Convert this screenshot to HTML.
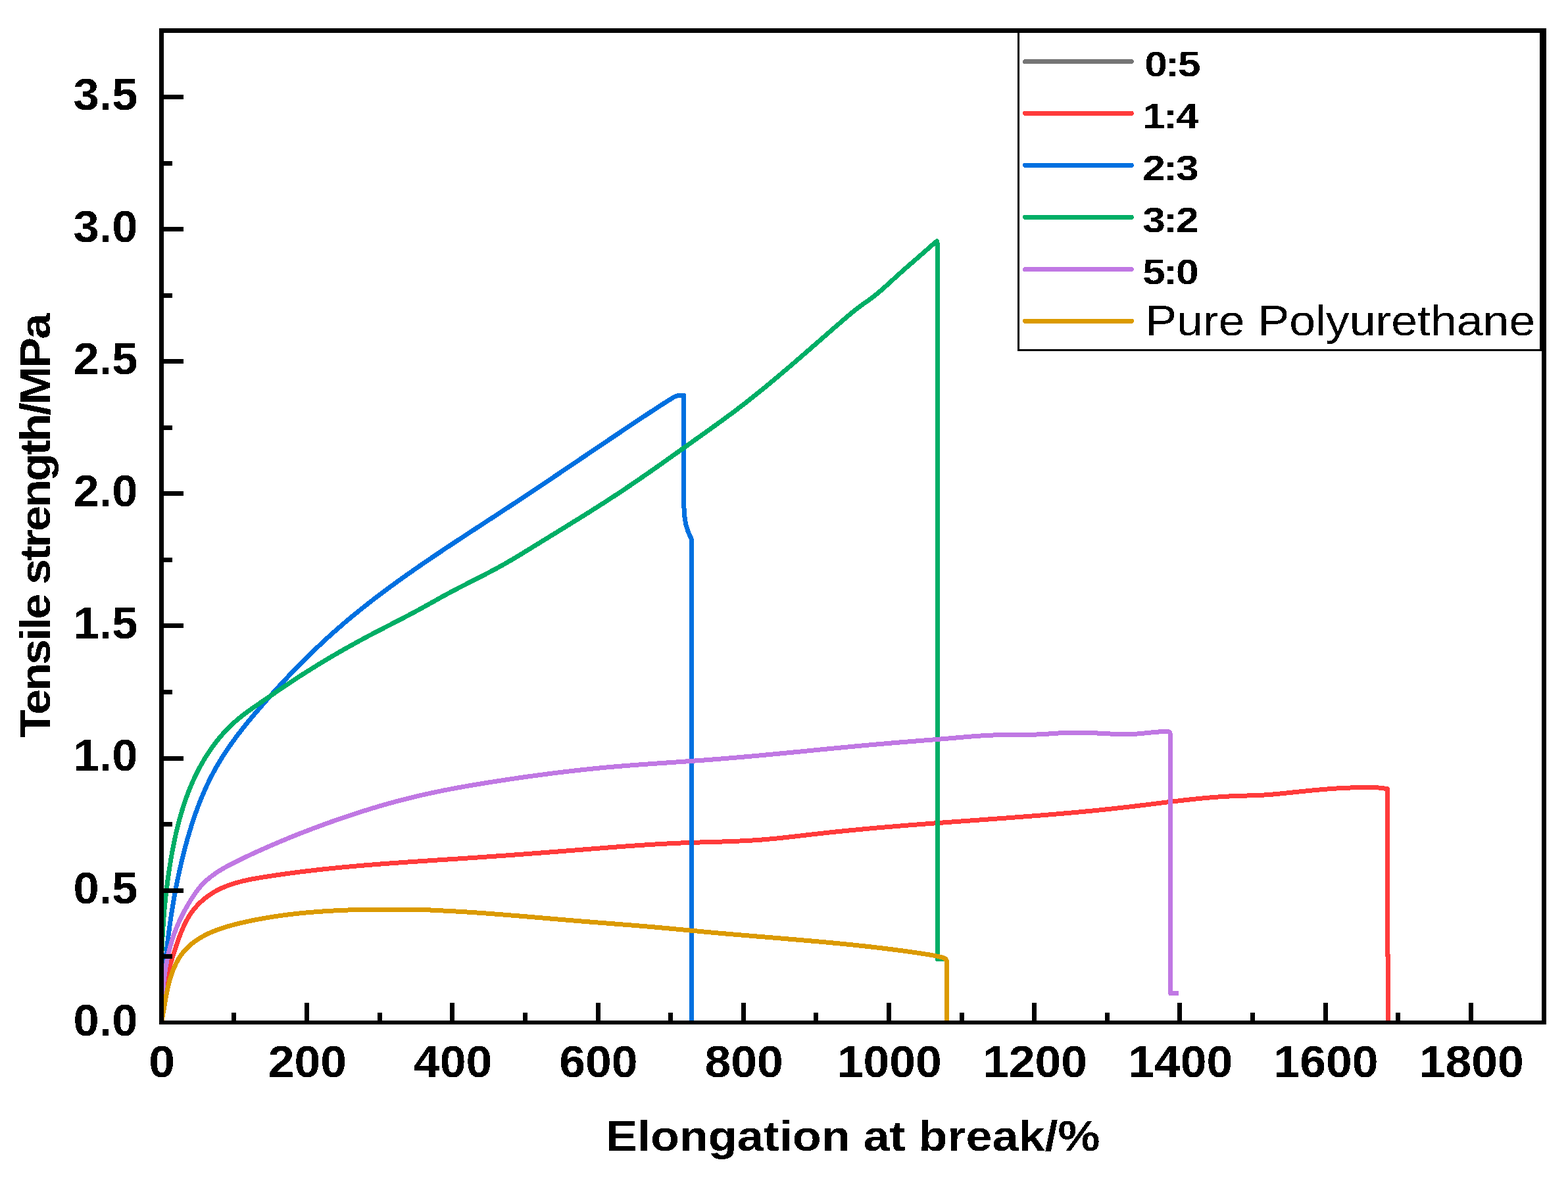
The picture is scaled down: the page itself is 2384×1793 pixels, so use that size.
<!DOCTYPE html>
<html lang="en">
<head>
<meta charset="utf-8">
<title>Tensile strength vs elongation at break</title>
<style>
html,body{margin:0;padding:0;background:#fff;overflow:hidden}
svg{display:block}
text{font-family:"Liberation Sans",sans-serif;fill:#000}
.b{font-weight:bold}
.cv{fill:none;stroke-width:7;stroke-linejoin:round;stroke-linecap:butt}
.lg{fill:none;stroke-width:7;stroke-linecap:round}
</style>
</head>
<body>
<svg width="2384" height="1793" viewBox="0 0 2384 1793" role="img" aria-label="Tensile strength versus elongation at break for six samples">
<rect width="2384" height="1793" fill="#fff"/>
<defs><clipPath id="plot"><rect x="249" y="50" width="2095" height="1502"/></clipPath><filter id="crisp" x="-5%" y="-5%" width="110%" height="110%" color-interpolation-filters="sRGB"><feComponentTransfer><feFuncA type="discrete" tableValues="0 1"/></feComponentTransfer></filter></defs>
<g clip-path="url(#plot)" shape-rendering="crispEdges">
<path class="cv" id="c-red" stroke="#FF3B3B" d="M245.25,1555.1 L245.15,1552.02 L245.09,1548.96 L245.09,1545.9 L245.13,1542.86 L245.22,1539.83 L245.36,1536.81 L245.54,1533.81 L245.76,1530.81 L246.03,1527.82 L246.33,1524.84 L246.68,1521.88 L247.06,1518.92 L247.48,1515.96 L247.94,1513.02 L248.43,1510.09 L248.95,1507.16 L249.5,1504.23 L250.09,1501.32 L250.7,1498.41 L251.34,1495.5 L252.01,1492.61 L252.7,1489.71 L253.42,1486.82 L254.16,1483.93 L254.92,1481.05 L255.7,1478.17 L256.49,1475.29 L257.31,1472.42 L258.14,1469.55 L258.99,1466.67 L259.85,1463.8 L260.72,1460.93 L261.61,1458.06 L262.5,1455.19 L263.4,1452.32 L264.31,1449.45 L265.23,1446.58 L266.15,1443.71 L267.09,1440.84 L268.04,1437.97 L269.01,1435.11 L269.99,1432.25 L271,1429.4 L272.03,1426.56 L273.08,1423.73 L274.17,1420.91 L275.28,1418.11 L276.43,1415.32 L277.61,1412.54 L278.83,1409.79 L280.09,1407.05 L281.39,1404.34 L282.75,1401.65 L284.15,1398.99 L285.62,1396.38 L287.14,1393.8 L288.74,1391.27 L290.4,1388.78 L292.14,1386.35 L293.94,1383.98 L295.82,1381.65 L297.76,1379.38 L299.76,1377.17 L301.82,1375.02 L303.94,1372.92 L306.11,1370.88 L308.34,1368.9 L310.62,1366.99 L312.94,1365.13 L315.31,1363.34 L317.72,1361.6 L320.17,1359.94 L322.66,1358.34 L325.19,1356.8 L327.75,1355.33 L330.34,1353.93 L332.96,1352.59 L335.6,1351.31 L338.28,1350.09 L340.98,1348.93 L343.71,1347.82 L346.46,1346.77 L349.23,1345.76 L352.03,1344.8 L354.85,1343.89 L357.69,1343.02 L360.54,1342.2 L363.41,1341.41 L366.3,1340.66 L369.2,1339.94 L372.12,1339.26 L375.05,1338.6 L377.99,1337.98 L380.94,1337.38 L383.9,1336.8 L386.87,1336.25 L389.85,1335.71 L392.83,1335.19 L395.81,1334.69 L398.8,1334.2 L401.79,1333.72 L404.78,1333.24 L407.77,1332.78 L410.76,1332.32 L413.75,1331.86 L416.74,1331.41 L419.73,1330.97 L422.72,1330.53 L425.71,1330.1 L428.7,1329.68 L431.69,1329.26 L434.68,1328.84 L437.67,1328.43 L440.66,1328.03 L443.65,1327.63 L446.64,1327.24 L449.63,1326.85 L452.61,1326.46 L455.6,1326.09 L458.59,1325.71 L461.58,1325.34 L464.57,1324.98 L467.55,1324.62 L470.54,1324.27 L473.53,1323.92 L476.52,1323.57 L479.5,1323.23 L482.49,1322.89 L485.48,1322.56 L488.46,1322.23 L491.45,1321.91 L494.44,1321.59 L497.43,1321.28 L500.41,1320.96 L503.4,1320.66 L506.38,1320.35 L509.37,1320.05 L512.36,1319.76 L515.34,1319.46 L518.33,1319.18 L521.32,1318.89 L524.3,1318.61 L527.29,1318.33 L530.27,1318.05 L533.26,1317.78 L536.25,1317.51 L539.23,1317.25 L542.22,1316.99 L545.21,1316.73 L548.19,1316.47 L551.18,1316.22 L554.16,1315.96 L557.15,1315.72 L560.14,1315.47 L563.12,1315.23 L566.11,1314.99 L569.09,1314.75 L572.08,1314.51 L575.07,1314.28 L578.05,1314.05 L581.04,1313.82 L584.02,1313.59 L587.01,1313.37 L590,1313.15 L592.98,1312.92 L595.97,1312.71 L598.96,1312.49 L601.94,1312.27 L604.93,1312.06 L607.92,1311.85 L610.9,1311.64 L613.89,1311.43 L616.88,1311.22 L619.86,1311.01 L622.85,1310.81 L625.84,1310.6 L628.83,1310.4 L631.81,1310.2 L634.8,1310 L637.79,1309.8 L640.78,1309.6 L643.77,1309.4 L646.75,1309.2 L649.74,1309.01 L652.73,1308.81 L655.72,1308.61 L658.71,1308.42 L661.7,1308.22 L664.69,1308.03 L667.67,1307.83 L670.66,1307.64 L673.65,1307.45 L676.64,1307.25 L679.63,1307.06 L682.62,1306.86 L685.61,1306.67 L688.6,1306.47 L691.6,1306.28 L694.59,1306.08 L697.58,1305.89 L700.57,1305.69 L703.56,1305.49 L706.55,1305.3 L709.54,1305.1 L712.54,1304.9 L715.53,1304.7 L718.52,1304.5 L721.51,1304.3 L724.51,1304.1 L727.5,1303.89 L730.49,1303.69 L733.49,1303.48 L736.48,1303.28 L739.48,1303.07 L742.47,1302.86 L745.47,1302.65 L748.46,1302.44 L751.46,1302.23 L754.45,1302.02 L757.45,1301.81 L760.44,1301.6 L763.44,1301.38 L766.43,1301.17 L769.43,1300.95 L772.42,1300.74 L775.42,1300.52 L778.41,1300.3 L781.41,1300.08 L784.41,1299.86 L787.4,1299.64 L790.4,1299.42 L793.39,1299.2 L796.39,1298.98 L799.39,1298.75 L802.38,1298.53 L805.38,1298.31 L808.37,1298.08 L811.37,1297.86 L814.36,1297.63 L817.36,1297.4 L820.36,1297.17 L823.35,1296.95 L826.35,1296.72 L829.34,1296.49 L832.34,1296.26 L835.33,1296.03 L838.33,1295.8 L841.32,1295.57 L844.32,1295.33 L847.31,1295.1 L850.3,1294.87 L853.3,1294.63 L856.29,1294.4 L859.28,1294.17 L862.28,1293.93 L865.27,1293.7 L868.26,1293.46 L871.26,1293.22 L874.25,1292.99 L877.24,1292.75 L880.23,1292.51 L883.22,1292.28 L886.21,1292.04 L889.21,1291.8 L892.2,1291.56 L895.19,1291.32 L898.18,1291.09 L901.17,1290.85 L904.16,1290.61 L907.15,1290.37 L910.13,1290.14 L913.12,1289.9 L916.11,1289.67 L919.1,1289.43 L922.09,1289.2 L925.08,1288.97 L928.07,1288.73 L931.06,1288.5 L934.05,1288.28 L937.04,1288.05 L940.02,1287.82 L943.01,1287.6 L946,1287.38 L948.99,1287.15 L951.98,1286.94 L954.97,1286.72 L957.96,1286.5 L960.95,1286.29 L963.94,1286.08 L966.93,1285.87 L969.92,1285.67 L972.91,1285.47 L975.9,1285.27 L978.89,1285.07 L981.88,1284.87 L984.87,1284.68 L987.86,1284.49 L990.85,1284.31 L993.84,1284.13 L996.83,1283.95 L999.82,1283.77 L1002.82,1283.6 L1005.81,1283.43 L1008.8,1283.27 L1011.8,1283.11 L1014.79,1282.95 L1017.78,1282.8 L1020.78,1282.65 L1023.77,1282.51 L1026.77,1282.37 L1029.77,1282.24 L1032.76,1282.11 L1035.76,1281.98 L1038.76,1281.86 L1041.76,1281.74 L1044.75,1281.63 L1047.75,1281.52 L1050.75,1281.42 L1053.75,1281.32 L1056.75,1281.22 L1059.76,1281.13 L1062.76,1281.04 L1065.76,1280.95 L1068.76,1280.86 L1071.76,1280.77 L1074.76,1280.69 L1077.76,1280.6 L1080.77,1280.51 L1083.77,1280.43 L1086.77,1280.34 L1089.77,1280.25 L1092.78,1280.16 L1095.78,1280.07 L1098.78,1279.97 L1101.78,1279.88 L1104.78,1279.78 L1107.78,1279.67 L1110.78,1279.56 L1113.78,1279.45 L1116.78,1279.33 L1119.78,1279.21 L1122.78,1279.08 L1125.78,1278.95 L1128.78,1278.81 L1131.78,1278.66 L1134.77,1278.51 L1137.77,1278.35 L1140.76,1278.18 L1143.76,1278 L1146.75,1277.82 L1149.75,1277.62 L1152.74,1277.42 L1155.73,1277.2 L1158.72,1276.98 L1161.71,1276.74 L1164.7,1276.49 L1167.69,1276.24 L1170.67,1275.97 L1173.66,1275.7 L1176.64,1275.42 L1179.63,1275.13 L1182.61,1274.83 L1185.6,1274.52 L1188.58,1274.21 L1191.56,1273.89 L1194.54,1273.57 L1197.52,1273.24 L1200.5,1272.91 L1203.48,1272.58 L1206.46,1272.24 L1209.45,1271.9 L1212.43,1271.55 L1215.4,1271.21 L1218.38,1270.86 L1221.36,1270.51 L1224.34,1270.16 L1227.32,1269.81 L1230.3,1269.47 L1233.28,1269.12 L1236.26,1268.78 L1239.24,1268.44 L1242.23,1268.1 L1245.21,1267.76 L1248.19,1267.43 L1251.17,1267.1 L1254.15,1266.77 L1257.13,1266.45 L1260.12,1266.12 L1263.1,1265.81 L1266.08,1265.49 L1269.07,1265.18 L1272.05,1264.87 L1275.03,1264.56 L1278.02,1264.25 L1281,1263.95 L1283.99,1263.65 L1286.97,1263.35 L1289.96,1263.05 L1292.94,1262.76 L1295.93,1262.47 L1298.91,1262.18 L1301.9,1261.89 L1304.89,1261.61 L1307.87,1261.33 L1310.86,1261.05 L1313.85,1260.77 L1316.84,1260.49 L1319.82,1260.22 L1322.81,1259.95 L1325.8,1259.68 L1328.79,1259.41 L1331.77,1259.15 L1334.76,1258.88 L1337.75,1258.62 L1340.74,1258.36 L1343.73,1258.1 L1346.72,1257.85 L1349.71,1257.59 L1352.7,1257.34 L1355.69,1257.09 L1358.68,1256.84 L1361.67,1256.59 L1364.66,1256.34 L1367.65,1256.1 L1370.64,1255.85 L1373.63,1255.61 L1376.62,1255.37 L1379.61,1255.13 L1382.6,1254.89 L1385.59,1254.66 L1388.58,1254.42 L1391.57,1254.19 L1394.56,1253.95 L1397.55,1253.72 L1400.54,1253.49 L1403.53,1253.26 L1406.53,1253.03 L1409.52,1252.81 L1412.51,1252.58 L1415.5,1252.35 L1418.49,1252.13 L1421.48,1251.9 L1424.47,1251.68 L1427.47,1251.46 L1430.46,1251.24 L1433.45,1251.02 L1436.44,1250.8 L1439.43,1250.58 L1442.42,1250.36 L1445.42,1250.14 L1448.41,1249.92 L1451.4,1249.7 L1454.39,1249.48 L1457.38,1249.27 L1460.38,1249.05 L1463.37,1248.83 L1466.36,1248.62 L1469.35,1248.4 L1472.34,1248.18 L1475.34,1247.97 L1478.33,1247.75 L1481.32,1247.54 L1484.31,1247.32 L1487.3,1247.1 L1490.3,1246.89 L1493.29,1246.67 L1496.28,1246.46 L1499.27,1246.24 L1502.26,1246.02 L1505.26,1245.8 L1508.25,1245.59 L1511.24,1245.37 L1514.23,1245.15 L1517.22,1244.93 L1520.21,1244.71 L1523.2,1244.49 L1526.2,1244.27 L1529.19,1244.05 L1532.18,1243.83 L1535.17,1243.6 L1538.16,1243.38 L1541.15,1243.15 L1544.14,1242.93 L1547.13,1242.7 L1550.12,1242.48 L1553.12,1242.25 L1556.11,1242.02 L1559.1,1241.79 L1562.09,1241.56 L1565.08,1241.32 L1568.07,1241.09 L1571.06,1240.85 L1574.05,1240.62 L1577.04,1240.38 L1580.03,1240.14 L1583.02,1239.9 L1586.01,1239.66 L1589,1239.42 L1591.99,1239.17 L1594.97,1238.92 L1597.96,1238.68 L1600.95,1238.43 L1603.94,1238.17 L1606.93,1237.92 L1609.92,1237.67 L1612.91,1237.41 L1615.9,1237.15 L1618.88,1236.89 L1621.87,1236.63 L1624.86,1236.36 L1627.85,1236.1 L1630.83,1235.83 L1633.82,1235.56 L1636.81,1235.28 L1639.79,1235.01 L1642.78,1234.73 L1645.77,1234.45 L1648.75,1234.17 L1651.74,1233.89 L1654.73,1233.6 L1657.71,1233.31 L1660.7,1233.02 L1663.68,1232.72 L1666.67,1232.43 L1669.65,1232.13 L1672.64,1231.83 L1675.62,1231.52 L1678.61,1231.21 L1681.59,1230.9 L1684.57,1230.59 L1687.56,1230.27 L1690.54,1229.96 L1693.52,1229.63 L1696.51,1229.31 L1699.49,1228.98 L1702.47,1228.65 L1705.45,1228.32 L1708.43,1227.98 L1711.42,1227.64 L1714.4,1227.29 L1717.38,1226.95 L1720.36,1226.6 L1723.34,1226.24 L1726.32,1225.89 L1729.3,1225.53 L1732.28,1225.17 L1735.26,1224.8 L1738.24,1224.44 L1741.22,1224.07 L1744.2,1223.7 L1747.18,1223.33 L1750.16,1222.96 L1753.14,1222.59 L1756.11,1222.22 L1759.09,1221.85 L1762.07,1221.48 L1765.05,1221.11 L1768.03,1220.74 L1771.01,1220.37 L1773.99,1220.01 L1776.97,1219.64 L1779.95,1219.28 L1782.93,1218.92 L1785.91,1218.57 L1788.89,1218.22 L1791.87,1217.87 L1794.85,1217.52 L1797.83,1217.18 L1800.81,1216.84 L1803.8,1216.51 L1806.78,1216.18 L1809.76,1215.86 L1812.74,1215.54 L1815.73,1215.23 L1818.71,1214.93 L1821.7,1214.63 L1824.68,1214.34 L1827.67,1214.05 L1830.65,1213.77 L1833.64,1213.5 L1836.62,1213.24 L1839.61,1212.98 L1842.6,1212.74 L1845.59,1212.5 L1848.58,1212.27 L1851.57,1212.05 L1854.56,1211.84 L1857.55,1211.64 L1860.55,1211.45 L1863.54,1211.28 L1866.53,1211.11 L1869.53,1210.95 L1872.52,1210.8 L1875.52,1210.67 L1878.52,1210.55 L1881.52,1210.44 L1884.52,1210.34 L1887.52,1210.25 L1890.52,1210.16 L1893.52,1210.08 L1896.52,1210 L1899.52,1209.92 L1902.52,1209.83 L1905.52,1209.74 L1908.52,1209.64 L1911.52,1209.53 L1914.51,1209.4 L1917.51,1209.26 L1920.51,1209.1 L1923.5,1208.91 L1926.49,1208.71 L1929.48,1208.49 L1932.47,1208.26 L1935.46,1208 L1938.45,1207.74 L1941.43,1207.47 L1944.42,1207.18 L1947.4,1206.89 L1950.39,1206.58 L1953.37,1206.28 L1956.35,1205.97 L1959.34,1205.65 L1962.32,1205.34 L1965.3,1205.03 L1968.29,1204.71 L1971.27,1204.4 L1974.25,1204.09 L1977.24,1203.78 L1980.22,1203.48 L1983.2,1203.17 L1986.19,1202.87 L1989.17,1202.58 L1992.16,1202.28 L1995.14,1202 L1998.13,1201.71 L2001.11,1201.44 L2004.1,1201.17 L2007.09,1200.9 L2010.07,1200.65 L2013.06,1200.4 L2016.05,1200.15 L2019.04,1199.92 L2022.03,1199.7 L2025.02,1199.48 L2028.02,1199.28 L2031.01,1199.09 L2034,1198.9 L2037,1198.73 L2039.99,1198.57 L2042.99,1198.42 L2045.99,1198.29 L2048.99,1198.16 L2051.99,1198.05 L2054.99,1197.94 L2057.99,1197.85 L2060.99,1197.77 L2063.99,1197.69 L2066.99,1197.62 L2069.99,1197.56 L2072.99,1197.51 L2075.99,1197.47 L2078.98,1197.46 L2081.98,1197.46 L2084.98,1197.5 L2087.97,1197.58 L2090.96,1197.7 L2093.95,1197.87 L2096.94,1198.1 L2099.92,1198.39 L2100,1198.39 L2109.5,1199.7 L2109.5,1453 L2110.3,1453 L2110.3,1557"/>
<path class="cv" id="c-blue" stroke="#0070E0" d="M245.25,1555.1 L245.39,1552.1 L245.54,1549.09 L245.69,1546.09 L245.84,1543.09 L245.99,1540.09 L246.16,1537.09 L246.32,1534.09 L246.49,1531.09 L246.66,1528.09 L246.84,1525.09 L247.02,1522.09 L247.21,1519.09 L247.4,1516.1 L247.59,1513.1 L247.79,1510.1 L248,1507.11 L248.21,1504.12 L248.42,1501.12 L248.64,1498.13 L248.86,1495.14 L249.09,1492.15 L249.33,1489.15 L249.57,1486.16 L249.81,1483.17 L250.06,1480.19 L250.32,1477.2 L250.58,1474.21 L250.85,1471.23 L251.12,1468.24 L251.4,1465.26 L251.69,1462.27 L251.98,1459.29 L252.27,1456.31 L252.58,1453.33 L252.89,1450.35 L253.2,1447.37 L253.52,1444.39 L253.85,1441.41 L254.19,1438.43 L254.53,1435.46 L254.88,1432.48 L255.23,1429.51 L255.59,1426.54 L255.96,1423.57 L256.34,1420.6 L256.72,1417.63 L257.11,1414.66 L257.5,1411.69 L257.91,1408.72 L258.32,1405.76 L258.74,1402.79 L259.16,1399.83 L259.6,1396.87 L260.04,1393.91 L260.49,1390.95 L260.94,1387.99 L261.41,1385.03 L261.88,1382.08 L262.36,1379.12 L262.85,1376.17 L263.35,1373.22 L263.85,1370.27 L264.37,1367.32 L264.89,1364.37 L265.42,1361.42 L265.96,1358.47 L266.51,1355.53 L267.06,1352.58 L267.63,1349.64 L268.2,1346.7 L268.79,1343.76 L269.38,1340.82 L269.98,1337.89 L270.59,1334.95 L271.21,1332.02 L271.84,1329.09 L272.48,1326.16 L273.12,1323.23 L273.78,1320.3 L274.45,1317.37 L275.13,1314.45 L275.81,1311.52 L276.51,1308.6 L277.22,1305.68 L277.93,1302.76 L278.66,1299.84 L279.4,1296.93 L280.14,1294.01 L280.9,1291.1 L281.67,1288.19 L282.45,1285.28 L283.24,1282.37 L284.04,1279.47 L284.85,1276.56 L285.67,1273.66 L286.51,1270.77 L287.35,1267.87 L288.21,1264.98 L289.09,1262.1 L289.97,1259.22 L290.87,1256.34 L291.78,1253.47 L292.71,1250.6 L293.65,1247.73 L294.6,1244.88 L295.57,1242.02 L296.55,1239.18 L297.55,1236.34 L298.56,1233.5 L299.59,1230.68 L300.63,1227.86 L301.69,1225.04 L302.77,1222.24 L303.86,1219.44 L304.97,1216.65 L306.1,1213.87 L307.24,1211.09 L308.4,1208.33 L309.58,1205.57 L310.78,1202.82 L311.99,1200.08 L313.23,1197.36 L314.48,1194.64 L315.75,1191.93 L317.04,1189.23 L318.35,1186.54 L319.68,1183.87 L321.03,1181.2 L322.4,1178.55 L323.79,1175.91 L325.2,1173.28 L326.63,1170.66 L328.09,1168.06 L329.56,1165.46 L331.06,1162.88 L332.57,1160.31 L334.11,1157.76 L335.66,1155.21 L337.24,1152.68 L338.83,1150.15 L340.44,1147.64 L342.07,1145.14 L343.72,1142.65 L345.38,1140.17 L347.06,1137.7 L348.75,1135.24 L350.46,1132.79 L352.19,1130.35 L353.93,1127.92 L355.69,1125.5 L357.46,1123.08 L359.24,1120.68 L361.04,1118.28 L362.85,1115.89 L364.67,1113.51 L366.51,1111.14 L368.35,1108.78 L370.21,1106.42 L372.08,1104.07 L373.96,1101.73 L375.84,1099.39 L377.74,1097.06 L379.65,1094.74 L381.56,1092.42 L383.49,1090.11 L385.42,1087.81 L387.36,1085.51 L389.3,1083.22 L391.26,1080.93 L393.22,1078.64 L395.18,1076.37 L397.15,1074.09 L399.13,1071.82 L401.1,1069.56 L403.09,1067.29 L405.08,1065.04 L407.07,1062.78 L409.07,1060.53 L411.07,1058.29 L413.07,1056.05 L415.09,1053.81 L417.1,1051.58 L419.12,1049.35 L421.15,1047.13 L423.17,1044.91 L425.21,1042.7 L427.25,1040.49 L429.29,1038.29 L431.34,1036.09 L433.39,1033.9 L435.45,1031.71 L437.51,1029.52 L439.58,1027.34 L441.65,1025.17 L443.73,1023 L445.81,1020.83 L447.9,1018.68 L449.99,1016.52 L452.09,1014.37 L454.19,1012.23 L456.3,1010.09 L458.41,1007.96 L460.53,1005.83 L462.65,1003.71 L464.78,1001.6 L466.91,999.49 L469.05,997.38 L471.19,995.29 L473.34,993.19 L475.5,991.11 L477.66,989.02 L479.82,986.95 L481.99,984.88 L484.17,982.82 L486.35,980.76 L488.54,978.71 L490.73,976.67 L492.93,974.63 L495.13,972.6 L497.34,970.57 L499.56,968.55 L501.78,966.54 L504.01,964.53 L506.24,962.53 L508.48,960.54 L510.72,958.55 L512.97,956.57 L515.22,954.6 L517.49,952.64 L519.75,950.68 L522.03,948.72 L524.3,946.78 L526.59,944.84 L528.88,942.91 L531.17,940.98 L533.48,939.06 L535.78,937.15 L538.1,935.24 L540.41,933.34 L542.74,931.45 L545.06,929.56 L547.4,927.68 L549.73,925.81 L552.08,923.94 L554.43,922.07 L556.78,920.22 L559.14,918.37 L561.5,916.52 L563.86,914.68 L566.23,912.84 L568.61,911.01 L570.99,909.19 L573.37,907.37 L575.76,905.56 L578.15,903.75 L580.55,901.94 L582.95,900.15 L585.35,898.35 L587.76,896.56 L590.17,894.78 L592.59,893 L595.01,891.22 L597.43,889.45 L599.85,887.69 L602.28,885.93 L604.72,884.17 L607.15,882.42 L609.59,880.67 L612.03,878.92 L614.47,877.18 L616.92,875.44 L619.37,873.71 L621.82,871.98 L624.28,870.26 L626.74,868.54 L629.2,866.82 L631.66,865.1 L634.12,863.39 L636.59,861.68 L639.06,859.98 L641.53,858.28 L644.01,856.58 L646.48,854.88 L648.96,853.19 L651.44,851.5 L653.92,849.81 L656.4,848.13 L658.89,846.45 L661.37,844.77 L663.86,843.09 L666.35,841.42 L668.84,839.75 L671.34,838.08 L673.83,836.41 L676.33,834.75 L678.82,833.08 L681.32,831.42 L683.82,829.76 L686.32,828.11 L688.82,826.45 L691.32,824.8 L693.83,823.14 L696.33,821.49 L698.84,819.84 L701.34,818.19 L703.85,816.55 L706.36,814.9 L708.86,813.25 L711.37,811.61 L713.88,809.96 L716.39,808.32 L718.9,806.68 L721.41,805.04 L723.92,803.4 L726.43,801.76 L728.95,800.12 L731.46,798.48 L733.97,796.84 L736.48,795.2 L738.99,793.56 L741.51,791.92 L744.02,790.28 L746.53,788.64 L749.04,787 L751.55,785.36 L754.06,783.72 L756.57,782.08 L759.08,780.43 L761.59,778.79 L764.1,777.15 L766.61,775.5 L769.12,773.86 L771.63,772.21 L774.14,770.57 L776.64,768.92 L779.15,767.27 L781.65,765.62 L784.16,763.97 L786.66,762.31 L789.16,760.66 L791.66,759 L794.16,757.35 L796.66,755.69 L799.16,754.03 L801.66,752.37 L804.16,750.71 L806.65,749.04 L809.15,747.38 L811.64,745.72 L814.14,744.05 L816.63,742.38 L819.13,740.72 L821.62,739.05 L824.11,737.38 L826.6,735.71 L829.1,734.04 L831.59,732.37 L834.08,730.7 L836.57,729.02 L839.06,727.35 L841.55,725.68 L844.04,724 L846.52,722.33 L849.01,720.65 L851.5,718.98 L853.99,717.3 L856.48,715.62 L858.96,713.95 L861.45,712.27 L863.94,710.59 L866.42,708.91 L868.91,707.24 L871.4,705.56 L873.88,703.88 L876.37,702.2 L878.86,700.52 L881.34,698.84 L883.83,697.16 L886.31,695.48 L888.8,693.81 L891.29,692.13 L893.77,690.45 L896.26,688.77 L898.74,687.09 L901.23,685.41 L903.72,683.73 L906.21,682.06 L908.69,680.38 L911.18,678.7 L913.67,677.02 L916.15,675.35 L918.64,673.67 L921.13,672 L923.62,670.32 L926.11,668.65 L928.6,666.97 L931.09,665.3 L933.58,663.62 L936.07,661.95 L938.56,660.28 L941.05,658.61 L943.54,656.94 L946.03,655.27 L948.53,653.6 L951.02,651.93 L953.52,650.26 L956.01,648.6 L958.51,646.93 L961,645.27 L963.5,643.6 L966,641.94 L968.49,640.28 L970.99,638.62 L973.49,636.96 L975.99,635.3 L978.49,633.64 L980.99,631.99 L983.5,630.33 L986,628.68 L988.51,627.03 L991.01,625.38 L993.52,623.74 L996.03,622.1 L998.54,620.46 L1001.05,618.83 L1003.56,617.2 L1006.07,615.58 L1008.59,613.96 L1011.11,612.35 L1013.63,610.74 L1016.15,609.14 L1018.68,607.55 L1021.2,605.97 L1023.76,604.45 L1026.4,603.12 L1029.18,602.11 L1032.17,601.56 L1034,601.5 L1039.8,601.5 L1039.8,768 L1040.4,782.5 L1042.6,797 L1046.2,808.6 L1051.5,820.5 L1051.5,1557"/>
<path class="cv" id="c-green" stroke="#00AE66" d="M245.25,1555.1 L245.19,1552.09 L245.14,1549.08 L245.09,1546.06 L245.04,1543.05 L245,1540.04 L244.96,1537.03 L244.92,1534.02 L244.89,1531.02 L244.86,1528.01 L244.84,1525 L244.82,1521.99 L244.81,1518.99 L244.8,1515.98 L244.79,1512.98 L244.79,1509.97 L244.79,1506.97 L244.8,1503.96 L244.81,1500.96 L244.83,1497.96 L244.86,1494.95 L244.88,1491.95 L244.92,1488.95 L244.96,1485.95 L245,1482.95 L245.05,1479.95 L245.1,1476.95 L245.16,1473.96 L245.23,1470.96 L245.3,1467.96 L245.38,1464.96 L245.46,1461.97 L245.55,1458.97 L245.64,1455.98 L245.75,1452.98 L245.85,1449.99 L245.97,1447 L246.09,1444 L246.21,1441.01 L246.34,1438.02 L246.48,1435.03 L246.63,1432.04 L246.78,1429.05 L246.94,1426.06 L247.11,1423.07 L247.28,1420.08 L247.46,1417.1 L247.65,1414.11 L247.84,1411.12 L248.05,1408.14 L248.26,1405.15 L248.47,1402.17 L248.7,1399.18 L248.93,1396.2 L249.17,1393.22 L249.42,1390.23 L249.67,1387.25 L249.93,1384.27 L250.2,1381.29 L250.48,1378.31 L250.77,1375.33 L251.07,1372.35 L251.37,1369.37 L251.68,1366.4 L252,1363.42 L252.33,1360.44 L252.67,1357.47 L253.02,1354.49 L253.37,1351.52 L253.74,1348.54 L254.11,1345.57 L254.49,1342.59 L254.88,1339.62 L255.28,1336.65 L255.69,1333.68 L256.11,1330.71 L256.54,1327.74 L256.98,1324.77 L257.43,1321.8 L257.89,1318.83 L258.35,1315.86 L258.83,1312.9 L259.32,1309.93 L259.81,1306.96 L260.32,1304 L260.84,1301.03 L261.37,1298.07 L261.91,1295.11 L262.46,1292.15 L263.02,1289.19 L263.6,1286.24 L264.19,1283.29 L264.79,1280.34 L265.41,1277.39 L266.03,1274.45 L266.68,1271.5 L267.34,1268.57 L268.01,1265.64 L268.7,1262.71 L269.4,1259.78 L270.12,1256.86 L270.85,1253.95 L271.6,1251.04 L272.37,1248.13 L273.16,1245.23 L273.96,1242.34 L274.78,1239.45 L275.62,1236.57 L276.48,1233.7 L277.36,1230.83 L278.25,1227.97 L279.17,1225.12 L280.1,1222.27 L281.06,1219.43 L282.03,1216.6 L283.03,1213.78 L284.05,1210.96 L285.09,1208.16 L286.15,1205.36 L287.24,1202.57 L288.34,1199.79 L289.47,1197.02 L290.63,1194.26 L291.8,1191.52 L293,1188.78 L294.23,1186.05 L295.48,1183.33 L296.75,1180.62 L298.05,1177.93 L299.38,1175.24 L300.73,1172.57 L302.11,1169.91 L303.51,1167.26 L304.95,1164.62 L306.41,1162 L307.89,1159.39 L309.4,1156.8 L310.94,1154.22 L312.51,1151.66 L314.11,1149.11 L315.73,1146.58 L317.38,1144.07 L319.05,1141.58 L320.76,1139.11 L322.49,1136.65 L324.25,1134.22 L326.03,1131.81 L327.85,1129.42 L329.69,1127.05 L331.56,1124.7 L333.46,1122.38 L335.39,1120.08 L337.34,1117.81 L339.33,1115.56 L341.34,1113.34 L343.38,1111.15 L345.45,1108.98 L347.55,1106.84 L349.67,1104.73 L351.83,1102.65 L354.01,1100.6 L356.22,1098.58 L358.47,1096.59 L360.74,1094.63 L363.04,1092.71 L365.36,1090.81 L367.71,1088.94 L370.08,1087.1 L372.48,1085.28 L374.89,1083.48 L377.32,1081.7 L379.76,1079.94 L382.22,1078.2 L384.68,1076.46 L387.16,1074.74 L389.64,1073.03 L392.12,1071.33 L394.61,1069.63 L397.1,1067.94 L399.59,1066.24 L402.07,1064.55 L404.56,1062.85 L407.04,1061.16 L409.51,1059.46 L411.99,1057.77 L414.46,1056.08 L416.93,1054.38 L419.41,1052.69 L421.88,1051.01 L424.35,1049.32 L426.83,1047.64 L429.31,1045.96 L431.79,1044.28 L434.27,1042.61 L436.75,1040.94 L439.24,1039.28 L441.73,1037.62 L444.23,1035.97 L446.73,1034.32 L449.23,1032.68 L451.74,1031.04 L454.25,1029.41 L456.77,1027.78 L459.29,1026.16 L461.81,1024.55 L464.34,1022.94 L466.88,1021.33 L469.41,1019.73 L471.95,1018.14 L474.5,1016.55 L477.04,1014.97 L479.59,1013.39 L482.15,1011.81 L484.71,1010.25 L487.27,1008.68 L489.84,1007.13 L492.4,1005.58 L494.98,1004.03 L497.55,1002.49 L500.13,1000.96 L502.72,999.43 L505.3,997.9 L507.89,996.38 L510.49,994.87 L513.08,993.36 L515.68,991.86 L518.29,990.36 L520.89,988.87 L523.5,987.39 L526.11,985.91 L528.73,984.43 L531.35,982.96 L533.97,981.5 L536.59,980.04 L539.22,978.59 L541.85,977.14 L544.48,975.7 L547.12,974.26 L549.76,972.83 L552.4,971.41 L555.05,969.99 L557.69,968.58 L560.34,967.17 L563,965.77 L565.65,964.37 L568.31,962.98 L570.97,961.59 L573.63,960.2 L576.29,958.82 L578.96,957.44 L581.62,956.07 L584.29,954.69 L586.95,953.32 L589.62,951.95 L592.29,950.58 L594.95,949.21 L597.62,947.83 L600.29,946.46 L602.95,945.09 L605.61,943.71 L608.28,942.34 L610.94,940.96 L613.6,939.57 L616.26,938.19 L618.91,936.8 L621.57,935.4 L624.22,934 L626.86,932.6 L629.51,931.19 L632.15,929.77 L634.79,928.35 L637.42,926.92 L640.06,925.48 L642.68,924.04 L645.31,922.59 L647.93,921.13 L650.54,919.67 L653.16,918.2 L655.78,916.74 L658.39,915.27 L661.01,913.8 L663.63,912.34 L666.24,910.87 L668.86,909.41 L671.49,907.96 L674.12,906.51 L676.75,905.07 L679.38,903.63 L682.02,902.21 L684.67,900.8 L687.32,899.39 L689.98,897.99 L692.64,896.6 L695.3,895.21 L697.97,893.84 L700.63,892.46 L703.31,891.09 L705.98,889.72 L708.65,888.36 L711.33,887 L714.01,885.64 L716.68,884.28 L719.36,882.92 L722.04,881.56 L724.71,880.2 L727.39,878.83 L730.06,877.47 L732.73,876.1 L735.4,874.72 L738.06,873.34 L740.72,871.96 L743.38,870.57 L746.04,869.17 L748.69,867.76 L751.33,866.35 L753.97,864.92 L756.6,863.49 L759.23,862.05 L761.85,860.59 L764.47,859.13 L767.08,857.65 L769.68,856.16 L772.28,854.67 L774.87,853.16 L777.46,851.65 L780.04,850.13 L782.62,848.6 L785.19,847.06 L787.76,845.52 L790.33,843.97 L792.9,842.42 L795.46,840.86 L798.02,839.3 L800.58,837.73 L803.13,836.16 L805.69,834.59 L808.24,833.02 L810.79,831.44 L813.34,829.87 L815.9,828.29 L818.45,826.71 L821,825.14 L823.55,823.56 L826.11,821.99 L828.66,820.41 L831.22,818.84 L833.77,817.27 L836.33,815.69 L838.88,814.12 L841.44,812.55 L843.99,810.98 L846.55,809.4 L849.1,807.83 L851.66,806.26 L854.21,804.68 L856.77,803.11 L859.32,801.53 L861.88,799.96 L864.43,798.38 L866.98,796.8 L869.53,795.22 L872.08,793.64 L874.63,792.06 L877.18,790.48 L879.73,788.89 L882.28,787.31 L884.82,785.72 L887.37,784.13 L889.91,782.54 L892.45,780.95 L894.99,779.35 L897.53,777.75 L900.07,776.15 L902.61,774.55 L905.14,772.94 L907.67,771.33 L910.2,769.72 L912.73,768.11 L915.26,766.49 L917.78,764.87 L920.31,763.25 L922.83,761.62 L925.34,759.99 L927.86,758.36 L930.37,756.72 L932.88,755.08 L935.39,753.44 L937.9,751.79 L940.4,750.13 L942.9,748.48 L945.4,746.82 L947.89,745.15 L950.38,743.48 L952.87,741.81 L955.36,740.13 L957.85,738.45 L960.33,736.77 L962.81,735.08 L965.29,733.39 L967.76,731.7 L970.23,730 L972.71,728.31 L975.18,726.6 L977.64,724.9 L980.11,723.19 L982.57,721.48 L985.04,719.77 L987.5,718.05 L989.96,716.34 L992.41,714.62 L994.87,712.89 L997.33,711.17 L999.78,709.45 L1002.23,707.72 L1004.68,705.99 L1007.13,704.26 L1009.58,702.53 L1012.03,700.79 L1014.48,699.06 L1016.93,697.32 L1019.37,695.58 L1021.82,693.84 L1024.26,692.1 L1026.71,690.36 L1029.15,688.62 L1031.59,686.88 L1034.03,685.14 L1036.48,683.4 L1038.92,681.65 L1041.36,679.91 L1043.8,678.17 L1046.24,676.42 L1048.68,674.68 L1051.13,672.93 L1053.57,671.19 L1056.01,669.45 L1058.45,667.7 L1060.89,665.96 L1063.34,664.22 L1065.78,662.48 L1068.22,660.74 L1070.66,659 L1073.11,657.25 L1075.55,655.51 L1077.99,653.77 L1080.43,652.02 L1082.86,650.27 L1085.3,648.52 L1087.74,646.77 L1090.17,645.02 L1092.6,643.26 L1095.03,641.5 L1097.45,639.74 L1099.87,637.97 L1102.29,636.2 L1104.71,634.43 L1107.12,632.65 L1109.53,630.86 L1111.94,629.08 L1114.34,627.28 L1116.74,625.48 L1119.13,623.68 L1121.52,621.87 L1123.9,620.05 L1126.28,618.23 L1128.66,616.4 L1131.03,614.57 L1133.4,612.73 L1135.76,610.89 L1138.12,609.04 L1140.47,607.18 L1142.82,605.32 L1145.17,603.46 L1147.51,601.59 L1149.85,599.71 L1152.19,597.84 L1154.52,595.95 L1156.85,594.06 L1159.17,592.17 L1161.49,590.28 L1163.81,588.38 L1166.13,586.47 L1168.44,584.56 L1170.75,582.65 L1173.06,580.74 L1175.37,578.82 L1177.67,576.9 L1179.97,574.97 L1182.26,573.04 L1184.56,571.11 L1186.85,569.18 L1189.14,567.24 L1191.43,565.3 L1193.72,563.35 L1196,561.41 L1198.28,559.46 L1200.56,557.51 L1202.84,555.56 L1205.12,553.6 L1207.4,551.64 L1209.67,549.68 L1211.94,547.72 L1214.22,545.76 L1216.49,543.8 L1218.76,541.83 L1221.02,539.86 L1223.29,537.9 L1225.56,535.93 L1227.82,533.96 L1230.09,531.99 L1232.35,530.01 L1234.62,528.04 L1236.88,526.07 L1239.15,524.09 L1241.41,522.12 L1243.67,520.14 L1245.94,518.17 L1248.2,516.19 L1250.46,514.22 L1252.73,512.24 L1254.99,510.27 L1257.25,508.29 L1259.52,506.32 L1261.78,504.34 L1264.05,502.37 L1266.31,500.4 L1268.58,498.43 L1270.85,496.46 L1273.12,494.49 L1275.39,492.52 L1277.66,490.55 L1279.93,488.59 L1282.2,486.63 L1284.48,484.67 L1286.76,482.71 L1289.05,480.77 L1291.34,478.84 L1293.65,476.92 L1295.96,475.01 L1298.29,473.12 L1300.63,471.26 L1302.98,469.41 L1305.35,467.59 L1307.74,465.79 L1310.14,464.03 L1312.57,462.29 L1315.02,460.58 L1317.47,458.88 L1319.91,457.16 L1322.33,455.41 L1324.72,453.63 L1327.09,451.82 L1329.45,449.97 L1331.78,448.1 L1334.09,446.2 L1336.39,444.28 L1338.67,442.34 L1340.94,440.38 L1343.2,438.4 L1345.44,436.41 L1347.68,434.4 L1349.91,432.39 L1352.13,430.37 L1354.34,428.34 L1356.56,426.31 L1358.77,424.28 L1360.98,422.25 L1363.2,420.23 L1365.42,418.21 L1367.66,416.2 L1369.89,414.2 L1372.13,412.21 L1374.38,410.22 L1376.63,408.24 L1378.89,406.26 L1381.15,404.29 L1383.41,402.32 L1385.67,400.35 L1387.94,398.39 L1390.2,396.42 L1392.47,394.46 L1394.74,392.49 L1397,390.52 L1399.26,388.55 L1401.52,386.58 L1403.78,384.61 L1406.03,382.62 L1408.28,380.64 L1410.52,378.65 L1412.76,376.65 L1414.99,374.64 L1415.7,374 L1424.6,366.5 L1425.2,370 L1425.2,1458.5 L1440,1458.5"/>
<path class="cv" id="c-purple" stroke="#C078E3" d="M245.25,1555.1 L245.34,1552.11 L245.43,1549.12 L245.53,1546.13 L245.63,1543.14 L245.75,1540.14 L245.87,1537.14 L246,1534.14 L246.14,1531.14 L246.29,1528.14 L246.45,1525.14 L246.62,1522.13 L246.81,1519.13 L247,1516.13 L247.21,1513.13 L247.44,1510.13 L247.68,1507.13 L247.94,1504.14 L248.21,1501.14 L248.5,1498.15 L248.8,1495.16 L249.13,1492.17 L249.47,1489.19 L249.83,1486.21 L250.22,1483.23 L250.62,1480.26 L251.05,1477.3 L251.49,1474.33 L251.96,1471.38 L252.46,1468.42 L252.98,1465.48 L253.52,1462.54 L254.09,1459.6 L254.68,1456.68 L255.31,1453.76 L255.96,1450.84 L256.63,1447.94 L257.34,1445.04 L258.08,1442.15 L258.84,1439.27 L259.64,1436.4 L260.47,1433.54 L261.33,1430.68 L262.22,1427.84 L263.15,1425 L264.11,1422.18 L265.11,1419.37 L266.14,1416.57 L267.21,1413.78 L268.31,1411 L269.45,1408.23 L270.63,1405.47 L271.85,1402.73 L273.1,1400 L274.38,1397.28 L275.7,1394.58 L277.05,1391.88 L278.43,1389.2 L279.84,1386.53 L281.28,1383.87 L282.74,1381.23 L284.24,1378.6 L285.75,1375.98 L287.3,1373.37 L288.86,1370.77 L290.45,1368.19 L292.06,1365.63 L293.71,1363.08 L295.38,1360.56 L297.09,1358.08 L298.84,1355.64 L300.64,1353.24 L302.49,1350.9 L304.39,1348.62 L306.35,1346.4 L308.37,1344.25 L310.45,1342.16 L312.58,1340.13 L314.76,1338.16 L316.99,1336.24 L319.26,1334.38 L321.58,1332.56 L323.95,1330.8 L326.35,1329.08 L328.79,1327.41 L331.26,1325.78 L333.77,1324.18 L336.31,1322.62 L338.87,1321.1 L341.46,1319.6 L344.08,1318.14 L346.71,1316.7 L349.36,1315.29 L352.03,1313.9 L354.71,1312.52 L357.41,1311.17 L360.11,1309.83 L362.82,1308.5 L365.53,1307.18 L368.25,1305.87 L370.96,1304.56 L373.68,1303.26 L376.41,1301.97 L379.13,1300.69 L381.86,1299.42 L384.59,1298.15 L387.32,1296.89 L390.05,1295.63 L392.79,1294.39 L395.52,1293.15 L398.26,1291.92 L401.01,1290.69 L403.75,1289.47 L406.5,1288.26 L409.25,1287.05 L412,1285.85 L414.75,1284.66 L417.51,1283.48 L420.27,1282.3 L423.03,1281.13 L425.79,1279.96 L428.56,1278.8 L431.33,1277.65 L434.1,1276.5 L436.87,1275.36 L439.64,1274.22 L442.42,1273.09 L445.2,1271.97 L447.98,1270.85 L450.76,1269.74 L453.55,1268.64 L456.34,1267.54 L459.13,1266.44 L461.92,1265.35 L464.71,1264.27 L467.51,1263.19 L470.31,1262.12 L473.11,1261.05 L475.91,1259.99 L478.72,1258.93 L481.53,1257.88 L484.34,1256.84 L487.15,1255.8 L489.97,1254.76 L492.78,1253.73 L495.6,1252.71 L498.43,1251.69 L501.25,1250.68 L504.08,1249.67 L506.9,1248.67 L509.73,1247.67 L512.57,1246.68 L515.4,1245.69 L518.24,1244.72 L521.08,1243.74 L523.92,1242.78 L526.76,1241.81 L529.61,1240.86 L532.46,1239.91 L535.31,1238.97 L538.16,1238.03 L541.01,1237.1 L543.87,1236.18 L546.73,1235.26 L549.59,1234.35 L552.45,1233.45 L555.31,1232.55 L558.18,1231.66 L561.05,1230.78 L563.92,1229.9 L566.79,1229.03 L569.66,1228.17 L572.54,1227.31 L575.42,1226.46 L578.3,1225.62 L581.18,1224.78 L584.06,1223.95 L586.95,1223.13 L589.84,1222.32 L592.73,1221.51 L595.62,1220.71 L598.51,1219.92 L601.41,1219.14 L604.31,1218.36 L607.21,1217.59 L610.11,1216.83 L613.01,1216.08 L615.92,1215.34 L618.82,1214.6 L621.73,1213.87 L624.64,1213.15 L627.56,1212.43 L630.47,1211.73 L633.39,1211.03 L636.3,1210.34 L639.22,1209.66 L642.14,1208.99 L645.07,1208.32 L647.99,1207.67 L650.92,1207.02 L653.85,1206.38 L656.78,1205.74 L659.71,1205.12 L662.64,1204.5 L665.58,1203.89 L668.51,1203.29 L671.45,1202.69 L674.39,1202.1 L677.33,1201.51 L680.27,1200.94 L683.22,1200.37 L686.16,1199.8 L689.11,1199.24 L692.05,1198.69 L695,1198.14 L697.95,1197.6 L700.9,1197.07 L703.85,1196.54 L706.8,1196.01 L709.76,1195.49 L712.71,1194.97 L715.67,1194.46 L718.62,1193.96 L721.58,1193.46 L724.54,1192.96 L727.5,1192.47 L730.46,1191.98 L733.42,1191.49 L736.38,1191.01 L739.34,1190.53 L742.3,1190.06 L745.27,1189.59 L748.23,1189.12 L751.19,1188.66 L754.16,1188.19 L757.12,1187.73 L760.09,1187.28 L763.06,1186.82 L766.02,1186.37 L768.99,1185.92 L771.96,1185.48 L774.92,1185.03 L777.89,1184.59 L780.86,1184.15 L783.83,1183.72 L786.8,1183.28 L789.77,1182.85 L792.74,1182.43 L795.71,1182 L798.68,1181.58 L801.65,1181.16 L804.62,1180.74 L807.6,1180.33 L810.57,1179.92 L813.54,1179.51 L816.52,1179.11 L819.49,1178.71 L822.46,1178.31 L825.44,1177.92 L828.41,1177.52 L831.39,1177.14 L834.36,1176.75 L837.34,1176.37 L840.32,1175.99 L843.29,1175.62 L846.27,1175.24 L849.25,1174.88 L852.23,1174.51 L855.21,1174.15 L858.18,1173.79 L861.16,1173.44 L864.14,1173.08 L867.12,1172.74 L870.1,1172.39 L873.08,1172.05 L876.07,1171.72 L879.05,1171.38 L882.03,1171.06 L885.01,1170.73 L887.99,1170.41 L890.98,1170.09 L893.96,1169.78 L896.94,1169.47 L899.93,1169.16 L902.91,1168.86 L905.9,1168.56 L908.88,1168.27 L911.87,1167.98 L914.85,1167.7 L917.84,1167.41 L920.83,1167.14 L923.81,1166.86 L926.8,1166.6 L929.79,1166.33 L932.78,1166.07 L935.77,1165.81 L938.75,1165.56 L941.74,1165.31 L944.73,1165.06 L947.72,1164.82 L950.71,1164.58 L953.7,1164.34 L956.69,1164.1 L959.68,1163.87 L962.67,1163.64 L965.66,1163.41 L968.65,1163.19 L971.65,1162.96 L974.64,1162.74 L977.63,1162.52 L980.62,1162.31 L983.61,1162.09 L986.61,1161.88 L989.6,1161.66 L992.59,1161.45 L995.58,1161.24 L998.57,1161.03 L1001.57,1160.82 L1004.56,1160.62 L1007.55,1160.41 L1010.55,1160.2 L1013.54,1160 L1016.53,1159.79 L1019.52,1159.59 L1022.52,1159.38 L1025.51,1159.18 L1028.5,1158.97 L1031.5,1158.77 L1034.49,1158.56 L1037.48,1158.35 L1040.47,1158.15 L1043.47,1157.94 L1046.46,1157.73 L1049.45,1157.52 L1052.44,1157.31 L1055.44,1157.1 L1058.43,1156.88 L1061.42,1156.67 L1064.41,1156.45 L1067.4,1156.23 L1070.39,1156.01 L1073.39,1155.79 L1076.38,1155.56 L1079.37,1155.33 L1082.36,1155.1 L1085.35,1154.87 L1088.34,1154.64 L1091.33,1154.4 L1094.32,1154.16 L1097.31,1153.92 L1100.3,1153.68 L1103.29,1153.43 L1106.28,1153.18 L1109.27,1152.93 L1112.26,1152.68 L1115.25,1152.43 L1118.23,1152.17 L1121.22,1151.92 L1124.21,1151.66 L1127.2,1151.4 L1130.19,1151.13 L1133.18,1150.87 L1136.16,1150.6 L1139.15,1150.34 L1142.14,1150.07 L1145.13,1149.8 L1148.11,1149.53 L1151.1,1149.25 L1154.09,1148.98 L1157.07,1148.7 L1160.06,1148.43 L1163.05,1148.15 L1166.03,1147.87 L1169.02,1147.59 L1172.01,1147.31 L1174.99,1147.02 L1177.98,1146.74 L1180.97,1146.46 L1183.95,1146.17 L1186.94,1145.89 L1189.92,1145.6 L1192.91,1145.31 L1195.9,1145.03 L1198.88,1144.74 L1201.87,1144.45 L1204.85,1144.16 L1207.84,1143.87 L1210.82,1143.58 L1213.81,1143.29 L1216.8,1143 L1219.78,1142.71 L1222.77,1142.42 L1225.75,1142.12 L1228.74,1141.83 L1231.72,1141.54 L1234.71,1141.25 L1237.69,1140.96 L1240.68,1140.67 L1243.67,1140.38 L1246.65,1140.08 L1249.64,1139.79 L1252.62,1139.5 L1255.61,1139.21 L1258.59,1138.92 L1261.58,1138.63 L1264.57,1138.34 L1267.55,1138.05 L1270.54,1137.77 L1273.52,1137.48 L1276.51,1137.19 L1279.5,1136.91 L1282.48,1136.62 L1285.47,1136.34 L1288.45,1136.05 L1291.44,1135.77 L1294.43,1135.49 L1297.41,1135.21 L1300.4,1134.93 L1303.39,1134.65 L1306.37,1134.37 L1309.36,1134.09 L1312.35,1133.82 L1315.33,1133.54 L1318.32,1133.27 L1321.31,1133 L1324.3,1132.73 L1327.28,1132.46 L1330.27,1132.19 L1333.26,1131.93 L1336.25,1131.66 L1339.23,1131.4 L1342.22,1131.14 L1345.21,1130.88 L1348.2,1130.62 L1351.19,1130.37 L1354.18,1130.12 L1357.17,1129.87 L1360.15,1129.62 L1363.14,1129.37 L1366.13,1129.12 L1369.12,1128.88 L1372.11,1128.64 L1375.1,1128.4 L1378.09,1128.16 L1381.08,1127.92 L1384.07,1127.68 L1387.06,1127.44 L1390.05,1127.2 L1393.04,1126.97 L1396.03,1126.73 L1399.03,1126.5 L1402.02,1126.26 L1405.01,1126.02 L1408,1125.78 L1410.99,1125.55 L1413.98,1125.31 L1416.97,1125.07 L1419.96,1124.82 L1422.95,1124.58 L1425.94,1124.34 L1428.93,1124.09 L1431.93,1123.84 L1434.92,1123.59 L1437.91,1123.34 L1440.9,1123.08 L1443.89,1122.83 L1446.88,1122.57 L1449.87,1122.31 L1452.86,1122.05 L1455.85,1121.79 L1458.84,1121.53 L1461.83,1121.27 L1464.82,1121.02 L1467.82,1120.77 L1470.81,1120.52 L1473.8,1120.28 L1476.79,1120.04 L1479.78,1119.81 L1482.77,1119.59 L1485.77,1119.37 L1488.76,1119.16 L1491.75,1118.97 L1494.75,1118.78 L1497.74,1118.6 L1500.73,1118.43 L1503.73,1118.27 L1506.72,1118.13 L1509.72,1118 L1512.71,1117.88 L1515.71,1117.78 L1518.71,1117.69 L1521.7,1117.62 L1524.7,1117.56 L1527.7,1117.52 L1530.7,1117.48 L1533.7,1117.46 L1536.7,1117.45 L1539.7,1117.44 L1542.7,1117.43 L1545.7,1117.42 L1548.69,1117.42 L1551.69,1117.41 L1554.69,1117.4 L1557.69,1117.38 L1560.69,1117.35 L1563.69,1117.32 L1566.69,1117.27 L1569.69,1117.21 L1572.69,1117.13 L1575.69,1117.03 L1578.68,1116.91 L1581.68,1116.78 L1584.67,1116.62 L1587.67,1116.44 L1590.66,1116.25 L1593.66,1116.06 L1596.65,1115.85 L1599.65,1115.64 L1602.64,1115.44 L1605.64,1115.23 L1608.63,1115.04 L1611.63,1114.86 L1614.62,1114.69 L1617.62,1114.54 L1620.62,1114.41 L1623.61,1114.31 L1626.61,1114.23 L1629.61,1114.18 L1632.61,1114.14 L1635.61,1114.13 L1638.61,1114.14 L1641.6,1114.16 L1644.6,1114.2 L1647.6,1114.26 L1650.6,1114.33 L1653.61,1114.42 L1656.61,1114.51 L1659.61,1114.62 L1662.61,1114.74 L1665.6,1114.87 L1668.6,1115.01 L1671.6,1115.15 L1674.6,1115.3 L1677.6,1115.45 L1680.6,1115.61 L1683.6,1115.77 L1686.59,1115.93 L1689.59,1116.08 L1692.59,1116.22 L1695.58,1116.36 L1698.58,1116.47 L1701.57,1116.57 L1704.57,1116.64 L1707.56,1116.69 L1710.56,1116.71 L1713.55,1116.7 L1716.54,1116.65 L1719.54,1116.56 L1722.53,1116.42 L1725.52,1116.25 L1728.51,1116.04 L1731.51,1115.81 L1734.5,1115.55 L1737.49,1115.27 L1740.48,1114.98 L1743.47,1114.68 L1746.46,1114.38 L1749.46,1114.08 L1752.45,1113.79 L1755.44,1113.51 L1758.43,1113.25 L1761.42,1113.01 L1764.41,1112.8 L1767.4,1112.62 L1770,1112.5 L1776.5,1112.6 L1779,1114.5 L1779,1174 L1779.6,1174 L1779.6,1510.6 L1791.5,1510.6"/>
<path class="cv" id="c-orange" stroke="#DB9A00" d="M245.25,1555.1 L245.88,1552.14 L246.49,1549.18 L247.06,1546.23 L247.62,1543.28 L248.15,1540.33 L248.67,1537.39 L249.18,1534.46 L249.68,1531.52 L250.18,1528.59 L250.68,1525.66 L251.18,1522.73 L251.69,1519.8 L252.22,1516.87 L252.76,1513.94 L253.32,1511 L253.9,1508.07 L254.52,1505.13 L255.17,1502.19 L255.85,1499.25 L256.57,1496.3 L257.34,1493.36 L258.15,1490.42 L259.01,1487.49 L259.91,1484.57 L260.87,1481.67 L261.89,1478.79 L262.96,1475.94 L264.09,1473.12 L265.28,1470.33 L266.54,1467.58 L267.86,1464.87 L269.26,1462.21 L270.72,1459.6 L272.26,1457.04 L273.88,1454.54 L275.57,1452.1 L277.35,1449.73 L279.21,1447.43 L281.15,1445.2 L283.16,1443.03 L285.25,1440.94 L287.41,1438.91 L289.63,1436.95 L291.91,1435.05 L294.25,1433.22 L296.64,1431.46 L299.08,1429.76 L301.57,1428.12 L304.09,1426.54 L306.65,1425.03 L309.25,1423.57 L311.88,1422.17 L314.54,1420.83 L317.23,1419.54 L319.94,1418.31 L322.69,1417.12 L325.45,1415.98 L328.24,1414.88 L331.05,1413.83 L333.88,1412.82 L336.73,1411.85 L339.6,1410.91 L342.48,1410.01 L345.37,1409.14 L348.28,1408.3 L351.19,1407.48 L354.12,1406.7 L357.05,1405.93 L359.99,1405.19 L362.93,1404.47 L365.87,1403.76 L368.81,1403.07 L371.76,1402.4 L374.71,1401.74 L377.65,1401.09 L380.6,1400.47 L383.55,1399.85 L386.5,1399.25 L389.46,1398.67 L392.41,1398.09 L395.37,1397.54 L398.32,1396.99 L401.28,1396.46 L404.24,1395.95 L407.2,1395.45 L410.16,1394.96 L413.12,1394.48 L416.08,1394.01 L419.05,1393.56 L422.01,1393.12 L424.98,1392.7 L427.95,1392.28 L430.91,1391.88 L433.88,1391.49 L436.85,1391.11 L439.82,1390.74 L442.8,1390.38 L445.77,1390.03 L448.74,1389.7 L451.72,1389.37 L454.69,1389.06 L457.67,1388.75 L460.65,1388.46 L463.63,1388.17 L466.61,1387.89 L469.59,1387.63 L472.57,1387.37 L475.55,1387.12 L478.53,1386.88 L481.52,1386.65 L484.5,1386.43 L487.49,1386.22 L490.47,1386.01 L493.46,1385.81 L496.45,1385.62 L499.44,1385.44 L502.43,1385.26 L505.42,1385.1 L508.41,1384.94 L511.4,1384.78 L514.39,1384.63 L517.38,1384.49 L520.38,1384.36 L523.37,1384.23 L526.37,1384.11 L529.36,1383.99 L532.36,1383.88 L535.36,1383.78 L538.35,1383.68 L541.35,1383.5 L544.35,1383.5 L547.35,1383.5 L550.35,1383.5 L553.35,1383.5 L556.34,1383.5 L559.35,1383.5 L562.35,1383.5 L565.35,1383.5 L568.35,1383.5 L571.35,1383.5 L574.35,1383.5 L577.35,1383.5 L580.36,1383.5 L583.36,1383.5 L586.36,1383.5 L589.36,1383.5 L592.37,1383.5 L595.37,1383.5 L598.37,1383.5 L601.37,1383.5 L604.38,1383.5 L607.38,1383.5 L610.38,1383.5 L613.39,1383.5 L616.39,1383.5 L619.39,1383.5 L622.39,1383.5 L625.4,1383.5 L628.4,1383.5 L631.4,1383.5 L634.4,1383.5 L637.4,1383.5 L640.4,1383.5 L643.41,1383.5 L646.41,1383.5 L649.41,1383.5 L652.41,1383.5 L655.41,1384.21 L658.41,1384.32 L661.4,1384.45 L664.4,1384.57 L667.4,1384.71 L670.4,1384.84 L673.39,1384.98 L676.39,1385.13 L679.39,1385.28 L682.38,1385.43 L685.38,1385.59 L688.38,1385.75 L691.37,1385.92 L694.36,1386.09 L697.36,1386.26 L700.35,1386.44 L703.35,1386.62 L706.34,1386.8 L709.33,1386.99 L712.33,1387.18 L715.32,1387.38 L718.31,1387.57 L721.3,1387.77 L724.3,1387.98 L727.29,1388.18 L730.28,1388.39 L733.27,1388.61 L736.26,1388.82 L739.25,1389.04 L742.24,1389.26 L745.23,1389.48 L748.22,1389.71 L751.21,1389.93 L754.2,1390.16 L757.19,1390.39 L760.18,1390.63 L763.17,1390.86 L766.16,1391.1 L769.15,1391.34 L772.14,1391.58 L775.13,1391.82 L778.12,1392.07 L781.11,1392.31 L784.1,1392.56 L787.08,1392.8 L790.07,1393.05 L793.06,1393.3 L796.05,1393.56 L799.04,1393.81 L802.03,1394.06 L805.01,1394.31 L808,1394.57 L810.99,1394.82 L813.98,1395.08 L816.97,1395.33 L819.96,1395.59 L822.94,1395.85 L825.93,1396.1 L828.92,1396.36 L831.91,1396.62 L834.9,1396.87 L837.89,1397.13 L840.87,1397.39 L843.86,1397.64 L846.85,1397.9 L849.84,1398.15 L852.83,1398.41 L855.82,1398.66 L858.81,1398.92 L861.8,1399.17 L864.79,1399.42 L867.77,1399.67 L870.76,1399.92 L873.75,1400.17 L876.74,1400.41 L879.73,1400.66 L882.72,1400.9 L885.71,1401.15 L888.7,1401.39 L891.7,1401.63 L894.69,1401.87 L897.68,1402.11 L900.67,1402.34 L903.66,1402.58 L906.65,1402.82 L909.64,1403.05 L912.63,1403.29 L915.62,1403.52 L918.61,1403.76 L921.61,1403.99 L924.6,1404.23 L927.59,1404.46 L930.58,1404.7 L933.57,1404.93 L936.56,1405.17 L939.55,1405.4 L942.55,1405.64 L945.54,1405.88 L948.53,1406.11 L951.52,1406.35 L954.51,1406.59 L957.5,1406.83 L960.49,1407.07 L963.48,1407.31 L966.47,1407.56 L969.46,1407.8 L972.45,1408.05 L975.44,1408.3 L978.43,1408.55 L981.42,1408.8 L984.41,1409.05 L987.4,1409.31 L990.39,1409.57 L993.37,1409.82 L996.36,1410.09 L999.35,1410.35 L1002.34,1410.62 L1005.33,1410.89 L1008.31,1411.16 L1011.3,1411.43 L1014.29,1411.71 L1017.27,1411.98 L1020.26,1412.26 L1023.24,1412.54 L1026.23,1412.82 L1029.22,1413.1 L1032.2,1413.39 L1035.19,1413.67 L1038.17,1413.95 L1041.16,1414.24 L1044.14,1414.52 L1047.13,1414.81 L1050.11,1415.09 L1053.1,1415.38 L1056.08,1415.66 L1059.07,1415.95 L1062.06,1416.23 L1065.04,1416.51 L1068.03,1416.79 L1071.01,1417.07 L1074,1417.35 L1076.98,1417.63 L1079.97,1417.9 L1082.96,1418.17 L1085.94,1418.45 L1088.93,1418.72 L1091.92,1418.98 L1094.9,1419.25 L1097.89,1419.52 L1100.88,1419.78 L1103.87,1420.04 L1106.85,1420.3 L1109.84,1420.56 L1112.83,1420.82 L1115.82,1421.08 L1118.81,1421.33 L1121.8,1421.59 L1124.78,1421.84 L1127.77,1422.1 L1130.76,1422.35 L1133.75,1422.6 L1136.74,1422.85 L1139.73,1423.1 L1142.72,1423.35 L1145.71,1423.6 L1148.69,1423.85 L1151.68,1424.1 L1154.67,1424.35 L1157.66,1424.6 L1160.65,1424.84 L1163.64,1425.09 L1166.63,1425.34 L1169.62,1425.59 L1172.61,1425.83 L1175.6,1426.08 L1178.59,1426.33 L1181.58,1426.58 L1184.57,1426.83 L1187.55,1427.08 L1190.54,1427.33 L1193.53,1427.58 L1196.52,1427.83 L1199.51,1428.08 L1202.5,1428.33 L1205.49,1428.58 L1208.48,1428.84 L1211.47,1429.09 L1214.46,1429.35 L1217.44,1429.6 L1220.43,1429.86 L1223.42,1430.12 L1226.41,1430.38 L1229.4,1430.64 L1232.39,1430.9 L1235.37,1431.17 L1238.36,1431.43 L1241.35,1431.7 L1244.34,1431.97 L1247.32,1432.24 L1250.31,1432.51 L1253.3,1432.78 L1256.28,1433.06 L1259.27,1433.34 L1262.26,1433.62 L1265.24,1433.9 L1268.23,1434.18 L1271.22,1434.47 L1274.2,1434.75 L1277.19,1435.04 L1280.17,1435.34 L1283.16,1435.63 L1286.14,1435.93 L1289.13,1436.23 L1292.11,1436.53 L1295.09,1436.84 L1298.08,1437.15 L1301.06,1437.46 L1304.05,1437.77 L1307.03,1438.09 L1310.01,1438.41 L1312.99,1438.73 L1315.97,1439.06 L1318.96,1439.39 L1321.94,1439.72 L1324.92,1440.06 L1327.9,1440.4 L1330.88,1440.74 L1333.86,1441.09 L1336.83,1441.44 L1339.81,1441.8 L1342.79,1442.16 L1345.77,1442.52 L1348.74,1442.89 L1351.72,1443.26 L1354.7,1443.63 L1357.67,1444.01 L1360.64,1444.4 L1363.62,1444.79 L1366.59,1445.18 L1369.56,1445.58 L1372.53,1445.98 L1375.51,1446.38 L1378.48,1446.8 L1381.44,1447.21 L1384.41,1447.63 L1387.38,1448.06 L1390.35,1448.49 L1393.32,1448.93 L1396.28,1449.37 L1399.25,1449.82 L1402.21,1450.27 L1405.17,1450.73 L1408.13,1451.19 L1411.1,1451.66 L1414.05,1452.14 L1417.01,1452.64 L1419.96,1453.17 L1422.9,1453.75 L1425.83,1454.37 L1428.75,1455.06 L1431.65,1455.81 L1433,1456.2 L1437.5,1458.2 L1439.5,1461.5 L1439.5,1557"/>
</g>
<g fill="#000" shape-rendering="crispEdges">
<rect x="242" y="43" width="2109" height="7"/>
<rect x="242" y="1552" width="2109" height="6"/>
<rect x="242" y="43" width="7" height="1515"/>
<rect x="2344" y="43" width="7" height="1515"/>
<rect x="249" y="1451" width="13" height="7"/>
<rect x="249" y="1351" width="30" height="7"/>
<rect x="249" y="1250" width="13" height="7"/>
<rect x="249" y="1150" width="30" height="7"/>
<rect x="249" y="1049" width="13" height="7"/>
<rect x="249" y="948" width="30" height="7"/>
<rect x="249" y="848" width="13" height="7"/>
<rect x="249" y="747" width="30" height="7"/>
<rect x="249" y="647" width="13" height="7"/>
<rect x="249" y="546" width="30" height="7"/>
<rect x="249" y="446" width="13" height="7"/>
<rect x="249" y="345" width="30" height="7"/>
<rect x="249" y="245" width="13" height="7"/>
<rect x="249" y="144" width="30" height="7"/>
<rect x="352" y="1540" width="7" height="12"/>
<rect x="463" y="1525" width="7" height="27"/>
<rect x="574" y="1540" width="7" height="12"/>
<rect x="684" y="1525" width="7" height="27"/>
<rect x="795" y="1540" width="7" height="12"/>
<rect x="906" y="1525" width="7" height="27"/>
<rect x="1016" y="1540" width="7" height="12"/>
<rect x="1127" y="1525" width="7" height="27"/>
<rect x="1237" y="1540" width="7" height="12"/>
<rect x="1348" y="1525" width="7" height="27"/>
<rect x="1459" y="1540" width="7" height="12"/>
<rect x="1569" y="1525" width="7" height="27"/>
<rect x="1680" y="1540" width="7" height="12"/>
<rect x="1790" y="1525" width="7" height="27"/>
<rect x="1901" y="1540" width="7" height="12"/>
<rect x="2012" y="1525" width="7" height="27"/>
<rect x="2122" y="1540" width="7" height="12"/>
<rect x="2233" y="1525" width="7" height="27"/>
</g>
<g shape-rendering="crispEdges"><rect x="1547" y="47" width="797" height="487" fill="#000"/><rect x="1550" y="50" width="791" height="481" fill="#fff"/></g>
<rect x="2344" y="43" width="7" height="500" fill="#000" shape-rendering="crispEdges"/>
<rect x="1540" y="43" width="811" height="7" fill="#000" shape-rendering="crispEdges"/>
<line class="lg" shape-rendering="crispEdges" x1="1558.5" y1="93.5" x2="1720.4" y2="93.5" stroke="#757575"/>
<line class="lg" shape-rendering="crispEdges" x1="1558.5" y1="172.4" x2="1720.4" y2="172.4" stroke="#FF3B3B"/>
<line class="lg" shape-rendering="crispEdges" x1="1558.5" y1="251.4" x2="1720.4" y2="251.4" stroke="#0070E0"/>
<line class="lg" shape-rendering="crispEdges" x1="1558.5" y1="330.4" x2="1720.4" y2="330.4" stroke="#00AE66"/>
<line class="lg" shape-rendering="crispEdges" x1="1558.5" y1="409.5" x2="1720.4" y2="409.5" stroke="#C078E3"/>
<line class="lg" shape-rendering="crispEdges" x1="1558.5" y1="488.3" x2="1720.4" y2="488.3" stroke="#DB9A00"/>
<g filter="url(#crisp)">
<text class="b" transform="translate(1740.2,115.7) scale(1.1755,1)" font-size="53" letter-spacing="-2">0:5</text>
<text class="b" transform="translate(1737.2,194.6) scale(1.1755,1)" font-size="53" letter-spacing="-2">1:4</text>
<text class="b" transform="translate(1737.2,273.6) scale(1.1755,1)" font-size="53" letter-spacing="-2">2:3</text>
<text class="b" transform="translate(1737.2,352.6) scale(1.1755,1)" font-size="53" letter-spacing="-2">3:2</text>
<text class="b" transform="translate(1737.2,431.7) scale(1.1755,1)" font-size="53" letter-spacing="-2">5:0</text>
<text transform="translate(1741.3,510) scale(1.1049,1)" font-size="64.8">Pure Polyurethane</text>
<text class="b" transform="translate(111.5,1574.6) scale(1.0323,1)" font-size="68.2">0.0</text>
<text class="b" transform="translate(111.5,1373.51) scale(1.0323,1)" font-size="68.2">0.5</text>
<text class="b" transform="translate(111.5,1172.43) scale(1.0323,1)" font-size="68.2">1.0</text>
<text class="b" transform="translate(111.5,971.34) scale(1.0323,1)" font-size="68.2">1.5</text>
<text class="b" transform="translate(111.5,770.26) scale(1.0323,1)" font-size="68.2">2.0</text>
<text class="b" transform="translate(111.5,569.17) scale(1.0323,1)" font-size="68.2">2.5</text>
<text class="b" transform="translate(111.5,368.09) scale(1.0323,1)" font-size="68.2">3.0</text>
<text class="b" transform="translate(111.5,167) scale(1.0323,1)" font-size="68.2">3.5</text>
<text class="b" transform="translate(246.05,1638) scale(1.0484,1)" font-size="68.2" text-anchor="middle">0</text>
<text class="b" transform="translate(467.3,1638) scale(1.0484,1)" font-size="68.2" text-anchor="middle">200</text>
<text class="b" transform="translate(688.55,1638) scale(1.0484,1)" font-size="68.2" text-anchor="middle">400</text>
<text class="b" transform="translate(909.8,1638) scale(1.0484,1)" font-size="68.2" text-anchor="middle">600</text>
<text class="b" transform="translate(1131.05,1638) scale(1.0484,1)" font-size="68.2" text-anchor="middle">800</text>
<text class="b" transform="translate(1352.3,1638) scale(1.0484,1)" font-size="68.2" text-anchor="middle">1000</text>
<text class="b" transform="translate(1573.55,1638) scale(1.0484,1)" font-size="68.2" text-anchor="middle">1200</text>
<text class="b" transform="translate(1794.8,1638) scale(1.0484,1)" font-size="68.2" text-anchor="middle">1400</text>
<text class="b" transform="translate(2016.05,1638) scale(1.0484,1)" font-size="68.2" text-anchor="middle">1600</text>
<text class="b" transform="translate(2237.3,1638) scale(1.0484,1)" font-size="68.2" text-anchor="middle">1800</text>
<text class="b" transform="translate(920.9,1750) scale(1.1037,1)" font-size="65.2">Elongation at break/%</text>
<text class="b" transform="translate(75.95,1121.6) rotate(-90) scale(1.0736,1)" font-size="65.2" letter-spacing="-2.64">Tensile strength/MPa</text>
</g>
</svg>
</body>
</html>
